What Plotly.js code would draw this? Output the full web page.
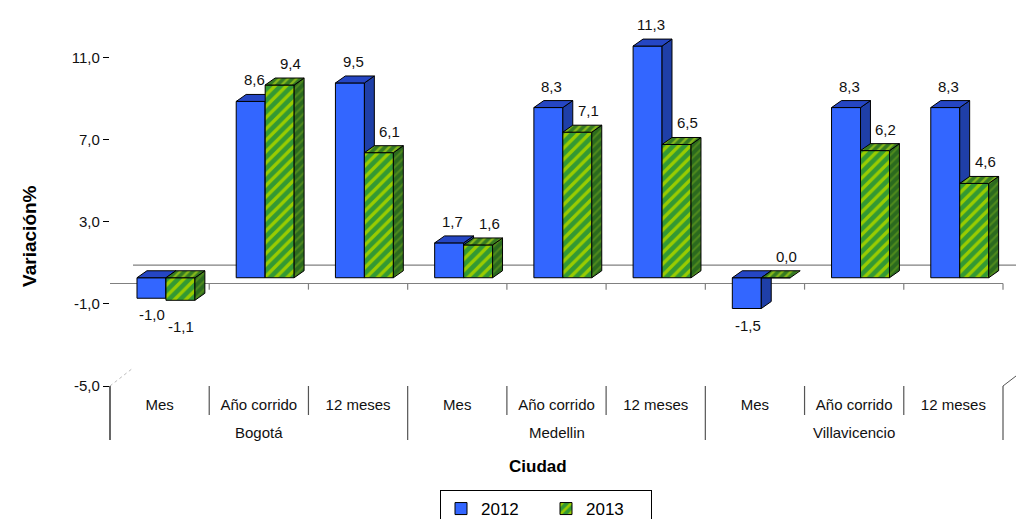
<!DOCTYPE html>
<html><head><meta charset="utf-8">
<script src="https://cdn.plot.ly/plotly-3.0.1.min.js"></script>
<style>html,body{margin:0;padding:0;background:#fff}#chart{width:1016px;height:519px}</style>
</head><body><div id="chart"></div>
<script>
// ---- data ----
const cities = ['Bogotá', 'Medellin', 'Villavicencio'];
const periods = ['Mes', 'Año corrido', '12 meses'];
const seriesNames = ['2012', '2013'];
const series2012 = [-1.0, 8.6, 9.5, 1.7, 8.3, 11.3, -1.5, 8.3, 8.3];
const series2013 = [-1.1, 9.4, 6.1, 1.6, 7.1, 6.5, 0.0, 6.2, 4.6];
const yTickVals = [-5, -1, 3, 7, 11];
const yTitle = 'Variación%';
const xTitle = 'Ciudad';

// ---- styling / pseudo-3D geometry ----
const FONT = 'Liberation Sans, Arial, sans-serif';
const BW = 0.292;            // bar width (category units)
const OFF = [-0.228, 0.064]; // bar offsets
const DX = 0.10, DY = 0.34;  // depth of bar faces
const LIFT = 0.28;           // front plane lift of bars
const YR = [-5, 12.07];
const FLOOR_BACK = 0.9;
const LABEL_DX_POS = [0.035, 0.11];   // label offsets (category units) for positive values
const LABEL_DY_NEG = [-6, -16];       // label shifts (px) for negative values

const nCat = cities.length * periods.length;
const xIdx = Array.from({length: nCat}, (_, i) => i);
const catLabels = xIdx.map(i => periods[i % periods.length]);
const fmt = v => v.toFixed(1).replace('.', ',');

const styles = [
  {front: '#3366FF', side: '#1F3FA8', top: '#2546C4', pattern: null, sidePat: null, topPat: null},
  {front: '#339933', side: '#2B6A1E', top: '#357A22',
   pattern: {shape: '/', fgcolor: '#99CC00', bgcolor: '#339933', size: 8, solidity: 0.42},
   sidePat: {shape: '/', fgcolor: '#4F8A1C', bgcolor: '#2B6A1E', size: 6, solidity: 0.35},
   topPat: {shape: '/', fgcolor: '#86B81A', bgcolor: '#357A22', size: 6, solidity: 0.4}}
];

function faces(vals, off) {
  const sx = [], sy = [], tx = [], ty = [];
  vals.forEach((v, i) => {
    const x0 = i + off, x1 = x0 + BW;
    const lo = Math.min(v, 0), hi = Math.max(v, 0);
    if (hi > lo) {
      sx.push(x1, x1 + DX, x1 + DX, x1, x1, null);
      sy.push(lo, lo + DY, hi + DY, hi, lo, null);
    }
    tx.push(x0, x0 + DX, x1 + DX, x1, x0, null);
    ty.push(hi, hi + DY, hi + DY, hi, hi, null);
  });
  return {sx, sy, tx, ty};
}

const allSeries = [series2012, series2013];
const traces = [];
const annotations = [];
allSeries.forEach((vals, s) => {
  const st = styles[s];
  const marker = {color: st.front, line: {color: '#000', width: 1}};
  if (st.pattern) marker.pattern = st.pattern;
  traces.push({
    type: 'bar', name: seriesNames[s], x: xIdx, y: vals, xaxis: 'x', yaxis: 'y2',
    width: BW, offset: OFF[s], marker: marker, zorder: s * 2, hoverinfo: 'skip'
  });
  const f = faces(vals, OFF[s]);
  const side = {type: 'scatter', mode: 'lines', x: f.sx, y: f.sy, xaxis: 'x', yaxis: 'y2',
    fill: 'toself', fillcolor: st.side, line: {color: '#000', width: 1}, showlegend: false,
    zorder: s * 2 + 1, hoverinfo: 'skip'};
  const top = {type: 'scatter', mode: 'lines', x: f.tx, y: f.ty, xaxis: 'x', yaxis: 'y2',
    fill: 'toself', fillcolor: st.top, line: {color: '#000', width: 1}, showlegend: false,
    zorder: s * 2 + 1, hoverinfo: 'skip'};
  if (st.sidePat) side.fillpattern = st.sidePat;
  if (st.topPat) top.fillpattern = st.topPat;
  traces.push(side, top);
  vals.forEach((v, i) => {
    const pos = v >= 0;
    annotations.push({
      x: i + OFF[s] + BW / 2 + (pos ? LABEL_DX_POS[s] : 0.01), y: v, xref: 'x', yref: 'y2',
      text: fmt(v), showarrow: false,
      yanchor: pos ? 'bottom' : 'top', yshift: pos ? 11 : LABEL_DY_NEG[s],
      font: {family: FONT, size: 15, color: '#111'}
    });
  });
});

// group labels
cities.forEach((c, g) => {
  annotations.push({x: g * periods.length + (periods.length - 1) / 2, xref: 'x',
    y: -46 / 350, yref: 'paper', text: c, showarrow: false, yanchor: 'middle',
    font: {family: FONT, size: 15, color: '#111'}});
});
annotations.push({x: 0.479, xref: 'paper', y: -81 / 350, yref: 'paper', text: '<b>' + xTitle + '</b>',
  showarrow: false, yanchor: 'middle', font: {family: FONT, size: 17, color: '#000'}});
annotations.push({x: -80 / 893, xref: 'paper', y: 0.426, yref: 'paper', text: '<b>' + yTitle + '</b>',
  textangle: -90, showarrow: false, xanchor: 'center', yanchor: 'middle',
  font: {family: FONT, size: 19, color: '#000'}});

// structural lines
const shapes = [];
const pxX = 1 / 893, pxY = 1 / 350;
shapes.push({type: 'line', xref: 'paper', yref: 'y', x0: 23 * pxX, x1: 1 + 13 * pxX, y0: FLOOR_BACK, y1: FLOOR_BACK,
  line: {color: '#808080', width: 1.2}, layer: 'below'});
shapes.push({type: 'line', xref: 'paper', yref: 'y', x0: 0, x1: 1, y0: 0, y1: 0,
  line: {color: '#808080', width: 1.2}, layer: 'below'});
for (let k = 1; k <= nCat; k++) {
  shapes.push({type: 'line', xref: 'paper', yref: 'y', x0: k / nCat, x1: k / nCat, y0: 0, y1: -0.3,
    line: {color: '#808080', width: 1.2}, layer: 'below'});
}
for (let k = 1; k <= nCat; k++) {
  const groupEdge = k % periods.length === 0;
  shapes.push({type: 'line', xref: 'paper', yref: 'paper', x0: k / nCat, x1: k / nCat,
    y0: 0, y1: (groupEdge ? -54 : -29) * pxY, line: {color: '#555', width: 1.2}});
}
shapes.push({type: 'line', xref: 'paper', yref: 'paper', x0: 0, x1: 0, y0: 0, y1: -54 * pxY,
  line: {color: '#000', width: 1.2}});
shapes.push({type: 'line', xref: 'paper', yref: 'paper', x0: 0, y0: 0, x1: 23 * pxX, y1: 18 * pxY,
  line: {color: '#bbb', width: 1, dash: 'dot'}});
shapes.push({type: 'line', xref: 'paper', yref: 'paper', x0: 1, y0: 0, x1: 1 + 13 * pxX, y1: 10 * pxY,
  line: {color: '#555', width: 1}});

const layout = {
  width: 1016, height: 519,
  margin: {l: 110, r: 13, t: 36, b: 133, autoexpand: false},
  paper_bgcolor: '#fff', plot_bgcolor: '#fff',
  separators: ',.',
  barmode: 'overlay',
  showlegend: true,
  legend: {orientation: 'h', xref: 'container', yref: 'container',
    x: 546 / 1016, xanchor: 'center', y: 29 / 519, yanchor: 'top',
    bordercolor: '#000', borderwidth: 1, bgcolor: '#fff',
    font: {family: FONT, size: 17, color: '#000'}, itemwidth: 30, entrywidth: 60,
    tracegroupgap: 0},
  xaxis: {range: [-0.5, nCat - 0.5], tickmode: 'array', tickvals: xIdx, ticktext: catLabels,
    ticks: '', showgrid: false, zeroline: false, showline: true, linecolor: '#555', linewidth: 1.2,
    ticklabelstandoff: 5, automargin: false,
    tickfont: {family: FONT, size: 15, color: '#111'}, fixedrange: true},
  yaxis: {range: YR, tickmode: 'array', tickvals: yTickVals, ticktext: yTickVals.map(fmt), automargin: false,
    ticks: 'outside', ticklen: 6, tickcolor: '#000', showgrid: false, zeroline: false,
    showline: true, linecolor: '#000', linewidth: 1.2,
    tickfont: {family: FONT, size: 15, color: '#111'}, fixedrange: true},
  yaxis2: {range: [YR[0] - LIFT, YR[1] - LIFT], overlaying: 'y', visible: false, fixedrange: true},
  annotations: annotations,
  shapes: shapes
};

Plotly.newPlot('chart', traces, layout, {displayModeBar: false, staticPlot: true});
</script></body></html>
